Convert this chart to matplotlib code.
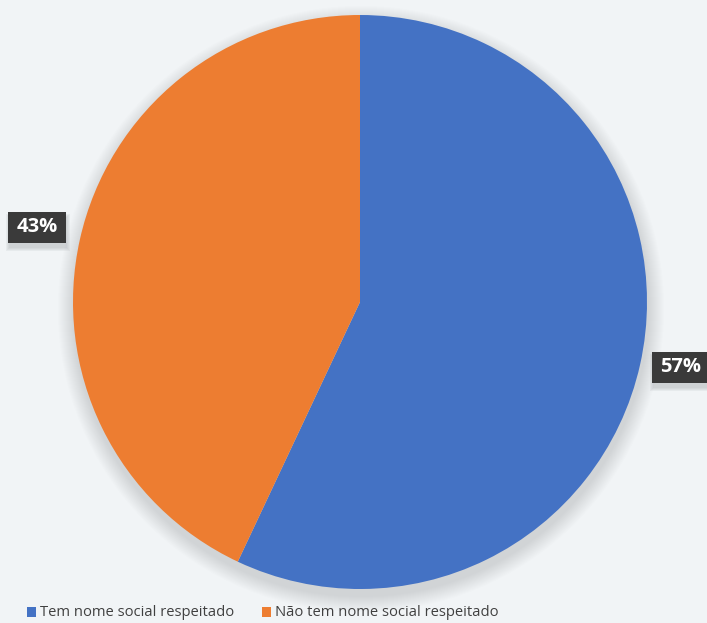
import matplotlib.pyplot as plt
from matplotlib.patches import Circle, Rectangle

# dados
categorias = ["Tem nome social respeitado", "Não tem nome social respeitado"]
valores = [57, 43]
cores = ["#4472c4", "#ed7d31"]
rotulos = ["57%", "43%"]

W, H = 707, 623
fundo = "#f1f4f6"

fig = plt.figure(figsize=(W / 100, H / 100), dpi=100, facecolor=fundo)
ax = fig.add_axes([0, 0, 1, 1])

cx, cy, r = 360, H - 302, 287

# sombra suave da pizza
for i in range(16):
    ax.add_patch(Circle((cx + 1, cy - 7), r + 16 - i, color="#8f959b",
                        alpha=0.02, lw=0, zorder=1))

ax.pie(valores, colors=cores, startangle=90, counterclock=False,
       center=(cx, cy), radius=r, frame=True,
       wedgeprops=dict(linewidth=0, zorder=2))
ax.set_xlim(0, W)
ax.set_ylim(0, H)
ax.set_aspect("equal")
ax.set_facecolor(fundo)
ax.axis("off")

# rótulos com caixa escura e sombra
posicoes = [(681, H - 367), (37, H - 227)]
bw, bh = 58, 31
for (x, y), txt in zip(posicoes, rotulos):
    for k in range(4):
        ax.add_patch(Rectangle((x - bw / 2 + 1 - k, y - bh / 2 - 5 - k),
                               bw + 2 * k, bh + 2 * k, color="#9ea3a8",
                               alpha=0.12, lw=0, zorder=3))
    ax.add_patch(Rectangle((x - bw / 2, y - bh / 2), bw, bh,
                           color="#3a3a3a", lw=0, zorder=4))
    ax.text(x, y, txt, ha="center", va="center", fontsize=14.5,
            fontweight="bold", family="Open Sans", color="white", zorder=5)

# legenda
leg_x = [27, 262]
leg_y = H - 612
for x, cat, cor in zip(leg_x, categorias, cores):
    ax.add_patch(Rectangle((x, leg_y - 5), 9, 10, color=cor, lw=0))
    ax.text(x + 13, leg_y, cat, ha="left", va="center", fontsize=10.6,
            family="Open Sans", color="#404040")

fig.savefig("out.png", dpi=100, facecolor=fundo)
